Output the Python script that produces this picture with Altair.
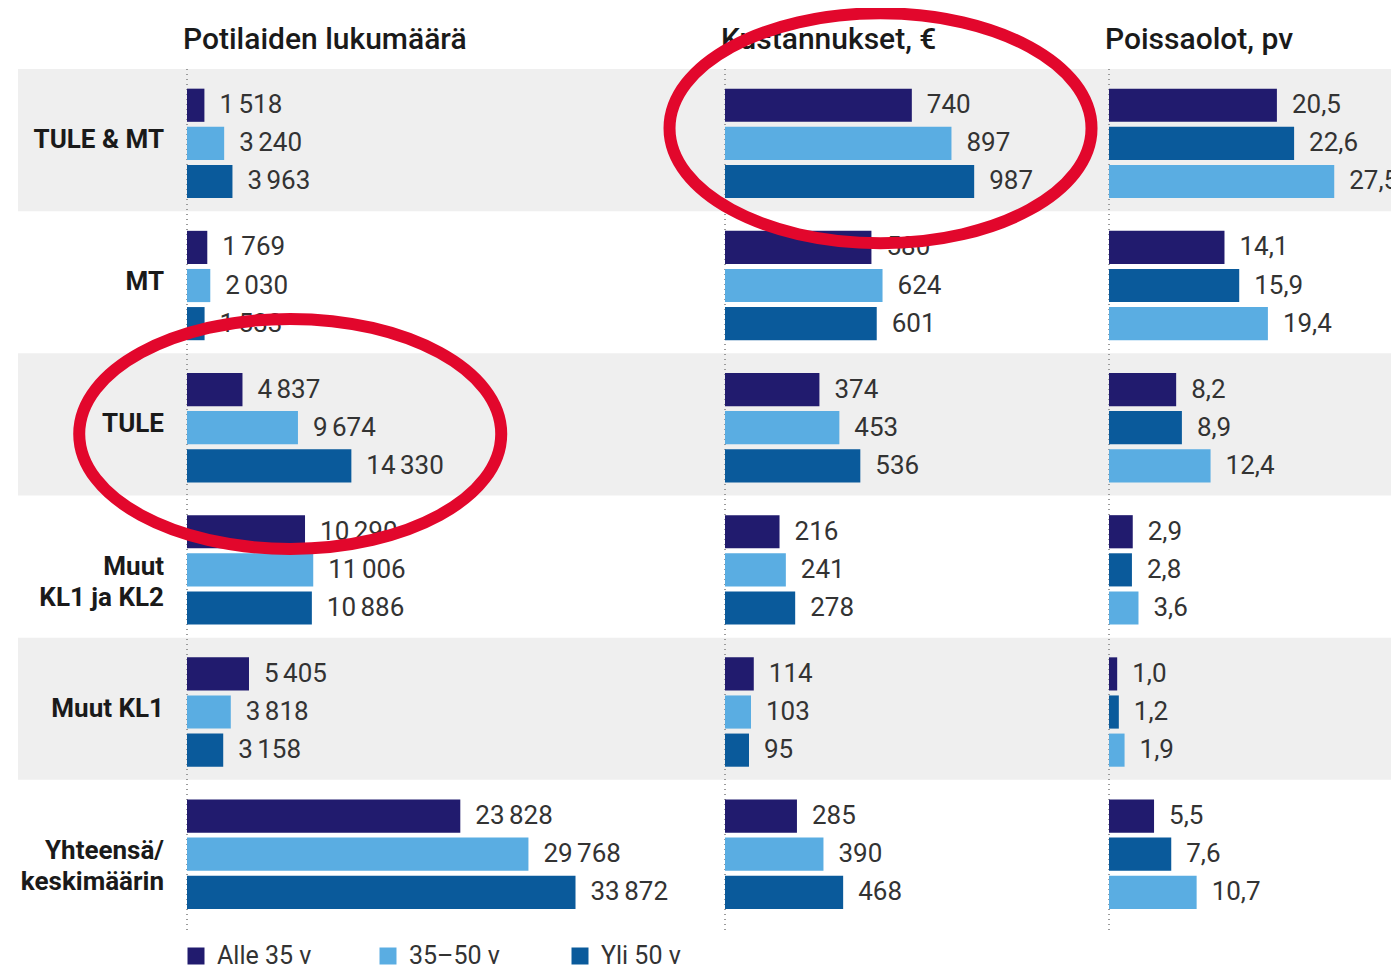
import altair as alt
import pandas as pd

# ---------------- data ----------------
categories = ["TULE & MT", "MT", "TULE", "Muut\nKL1 ja KL2", "Muut KL1", "Yhteensä/\nkeskimäärin"]
shaded = ["TULE & MT", "TULE", "Muut KL1"]
groups = ["Alle 35 v", "35–50 v", "Yli 50 v"]

patients_u35 = [1518, 1769, 4837, 10290, 5405, 23828]
patients_35_50 = [3240, 2030, 9674, 11006, 3818, 29768]
patients_o50 = [3963, 1533, 14330, 10886, 3158, 33872]

costs_u35 = [740, 580, 374, 216, 114, 285]
costs_35_50 = [897, 624, 453, 241, 103, 390]
costs_o50 = [987, 601, 536, 278, 95, 468]

absence_u35 = [20.5, 14.1, 8.2, 2.9, 1.0, 5.5]
absence_35_50 = [22.6, 15.9, 8.9, 2.8, 1.2, 7.6]
absence_o50 = [27.5, 19.4, 12.4, 3.6, 1.9, 10.7]

titles = ["Potilaiden lukumäärä", "Kustannukset, €", "Poissaolot, pv"]

# red annotation ellipses: panel index, category, x value, vertical shift (fraction of radius)
ellipse_panel = [1, 0]
ellipse_cat = ["TULE & MT", "TULE"]
ellipse_x = [616, 9000]
ellipse_shift = [-0.056, 0.045]

# ---------------- style ----------------
NAVY = "#211b6e"
LIGHT = "#5aade2"
MID = "#0a5a9b"
RED = "#e2072c"
BAND = "#efefef"
FONT = "Roboto"
H = 853
W_LAB, W1, W2, W3 = 169, 538, 384, 282
XMAX = [46905, 1521, 34.43]
group_colors = [NAVY, LIGHT, MID]


def ellipse_path(c, ry=0.545):
    k = 0.5523

    def f(v):
        return f"{v:.4f}"
    return (f"M -1 {f(c)} "
            f"C -1 {f(c - k * ry)} {f(-k)} {f(c - ry)} 0 {f(c - ry)} "
            f"C {f(k)} {f(c - ry)} 1 {f(c - k * ry)} 1 {f(c)} "
            f"C 1 {f(c + k * ry)} {f(k)} {f(c + ry)} 0 {f(c + ry)} "
            f"C {f(-k)} {f(c + ry)} -1 {f(c + k * ry)} -1 {f(c)} Z")


def fmt_int(v):
    return f"{v:,}".replace(",", "\u2006")


def fmt_dec(v):
    return f"{v:.1f}".replace(".", ",")


def build_df(series, fmt, colors):
    rows = []
    for g, vals, c in zip(groups, series, colors):
        for cat, v in zip(categories, vals):
            rows.append({"cat": cat, "group": g, "value": v, "label": fmt(v), "fill": c})
    return pd.DataFrame(rows)


df1 = build_df([patients_u35, patients_35_50, patients_o50], fmt_int, [NAVY, LIGHT, MID])
df2 = build_df([costs_u35, costs_35_50, costs_o50], fmt_int, [NAVY, LIGHT, MID])
df3 = build_df([absence_u35, absence_35_50, absence_o50], fmt_dec, [NAVY, MID, LIGHT])

band_df = pd.DataFrame({"cat": shaded})
cat_df = pd.DataFrame({"cat": categories})
legend_df = pd.DataFrame({"group": groups, "fill": group_colors})

yscale = alt.Scale(domain=categories, paddingInner=0, paddingOuter=0)
yenc = alt.Y("cat:N", scale=yscale, axis=None)
yoff = alt.YOffset("group:N", sort=groups,
                   scale=alt.Scale(domain=groups, paddingInner=0.13, paddingOuter=0.43,
                                   align=0.6))


def panel(i, df, width):
    xs = alt.X("value:Q", scale=alt.Scale(domain=[0, XMAX[i]], nice=False, zero=True), axis=None)
    bands = alt.Chart(band_df).mark_rect(color=BAND).encode(
        y=yenc, x=alt.value(0), x2=alt.value(width))
    rule = alt.Chart(cat_df).mark_rule(color="#9a9a9a", strokeDash=[1, 4], strokeWidth=1).encode(
        x=alt.value(0), y=alt.value(0), y2=alt.value(H + 10))
    bars = alt.Chart(df).mark_bar(opacity=1).encode(
        x=xs, y=yenc, yOffset=yoff, color=alt.Color("fill:N", scale=None))
    texts = alt.Chart(df).mark_text(align="left", baseline="middle", dx=15, fontSize=26,
                                    font=FONT, color="#333", clip=(i == 2)).encode(
        x=xs, y=yenc, yOffset=yoff, text="label:N")
    head = alt.Chart(pd.DataFrame({"t": [titles[i]]})).mark_text(
        align="left", baseline="alphabetic", fontSize=30, font=FONT, fontWeight=500,
        color="#1a1a1a").encode(x=alt.value(-4), y=alt.value(-20), text="t:N")
    layers = [bands, rule, bars, texts, head]
    for p, c, xv, sh in zip(ellipse_panel, ellipse_cat, ellipse_x, ellipse_shift):
        if p == i:
            edf = pd.DataFrame({"cat": [c], "value": [xv]})
            layers.append(alt.Chart(edf).mark_point(shape=ellipse_path(sh), size=422 * 422,
                                                    filled=False, stroke=RED, strokeWidth=12,
                                                    opacity=1).encode(x=xs, y=yenc))
    return alt.layer(*layers).properties(width=width, height=H)


label_bands = alt.Chart(band_df).mark_rect(color=BAND).encode(
    y=yenc, x=alt.value(0), x2=alt.value(W_LAB))
label_text = alt.Chart(cat_df).mark_text(align="right", baseline="middle", fontSize=26,
                                         font=FONT, fontWeight="bold", color="#1a1a1a",
                                         lineBreak="\n", lineHeight=31).encode(
    y=yenc, x=alt.value(W_LAB - 23), text="cat:N")
label_panel = alt.layer(label_bands, label_text).properties(width=W_LAB, height=H)

top = alt.hconcat(
    label_panel,
    panel(0, df1, W1),
    panel(1, df2, W2),
    panel(2, df3, W3),
    spacing=0, bounds="flush",
)

lx = alt.X("group:N", sort=groups,
           scale=alt.Scale(type="point", domain=groups, range=[178, 562], padding=0), axis=None)
leg_sq = alt.Chart(legend_df).mark_square(size=289, opacity=1).encode(
    x=lx, y=alt.value(14), color=alt.Color("fill:N", scale=None))
leg_tx = alt.Chart(legend_df).mark_text(align="left", baseline="middle", dx=21, fontSize=25,
                                        font=FONT, color="#333").encode(
    x=lx, y=alt.value(14), text="group:N")
legend = alt.layer(leg_sq, leg_tx).properties(width=700, height=28)

chart = alt.vconcat(top, legend, spacing=9).properties(
    padding={"left": 10, "top": -19, "right": 0, "bottom": 0},
    background="white",
).configure_view(stroke=None)

chart.save("out.html", embed_options={"renderer": "svg", "actions": False})
